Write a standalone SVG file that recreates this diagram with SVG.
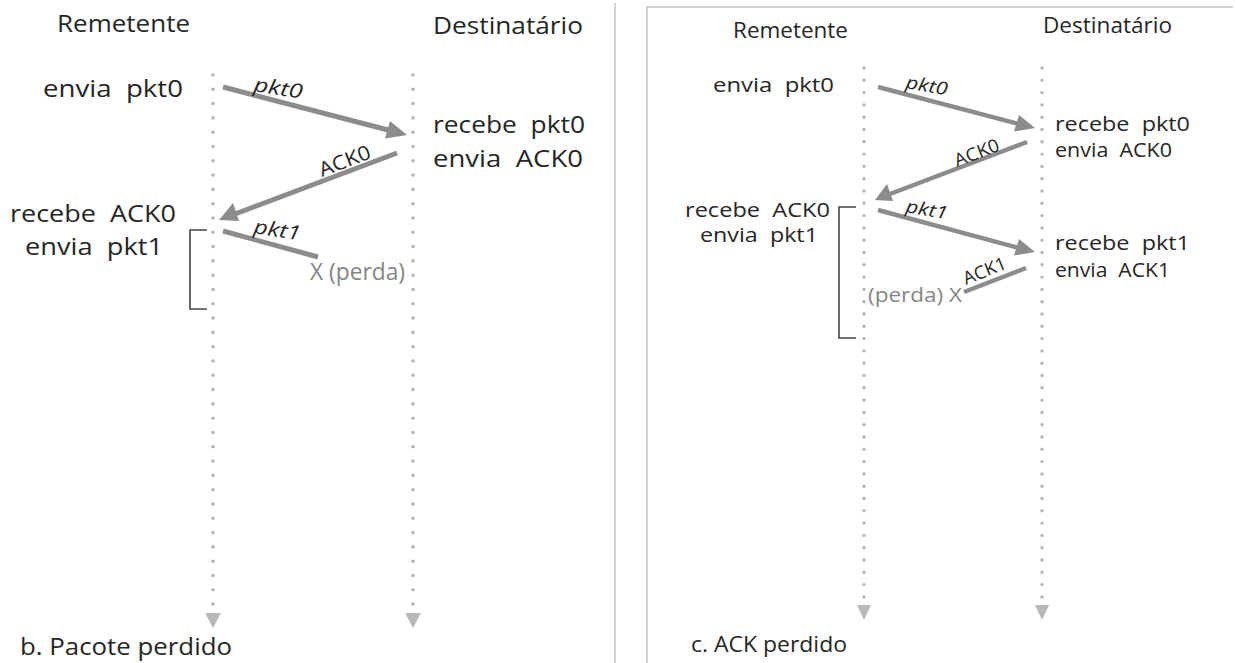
<svg xmlns="http://www.w3.org/2000/svg" width="1236" height="663" viewBox="0 0 1236 663">
<defs>
<style>
text{font-family:"Open Sans","Liberation Sans",sans-serif;fill:#262626}
.t1{font-size:24px}
.t2{font-size:21px}
.b1{font-size:23px}
.b2{font-size:20px}
.lbl1{font-size:20px}
.lbl2{font-size:18px}
.it{font-style:italic}
.loss{fill:#858585}
.arr{stroke:#8c8c8c;stroke-width:5;fill:none}
.arr2{stroke:#8c8c8c;stroke-width:4.5;fill:none}
.life1{stroke:#b5b5b5;stroke-width:3.6;stroke-linecap:round;stroke-dasharray:0 14.3;fill:none}
.life2{stroke:#b5b5b5;stroke-width:3.4;stroke-linecap:round;stroke-dasharray:0 12.3;fill:none}
.head{fill:#b8b8b8}
.ah{fill:#8c8c8c}
.br{stroke:#444;stroke-width:1.6;fill:none}
.frame{stroke:#c4c4c4;stroke-width:1.5;fill:none}
</style>
</defs>
<rect width="1236" height="663" fill="#fff"/>
<g id="frames">
<line class="frame" x1="615" y1="3" x2="615" y2="663"/>
<polyline class="frame" points="647,663 647,7 1233,7"/>
</g>
<g id="panel-b">
<g id="b-titles">
<text class="t1" x="57" y="32" textLength="133" lengthAdjust="spacingAndGlyphs">Remetente</text>
<text class="t1" x="433" y="34" textLength="150" lengthAdjust="spacingAndGlyphs">Destinatário</text>
</g>
<g id="b-lifelines">
<line class="life1" x1="213" y1="75" x2="213" y2="606"/>
<line class="life1" x1="413" y1="75" x2="413" y2="606"/>
<polygon class="head" points="205,613 221,613 213,628"/>
<polygon class="head" points="405,613 421,613 413,628"/>
</g>
<g id="b-sender-events">
<text class="b1" x="43" y="97" textLength="140" lengthAdjust="spacingAndGlyphs" xml:space="preserve">envia  pkt0</text>
<text class="b1" x="10" y="222" textLength="166" lengthAdjust="spacingAndGlyphs" xml:space="preserve">recebe  ACK0</text>
<text class="b1" x="25" y="255" textLength="138" lengthAdjust="spacingAndGlyphs" xml:space="preserve">envia  pkt1</text>
</g>
<g id="b-receiver-events">
<text class="b1" x="433" y="133" textLength="152" lengthAdjust="spacingAndGlyphs" xml:space="preserve">recebe  pkt0</text>
<text class="b1" x="433" y="167" textLength="150" lengthAdjust="spacingAndGlyphs" xml:space="preserve">envia  ACK0</text>
</g>
<g id="b-connectors">
<line class="arr" x1="223" y1="87" x2="390" y2="130.5"/>
<polygon class="ah" points="407,135 385,138.5 390,121"/>
<line class="arr" x1="397" y1="153" x2="235" y2="214"/>
<polygon class="ah" points="219,220 233,203 239,221"/>
<line class="arr" x1="223" y1="231" x2="318" y2="257"/>
<text class="lbl1 it" transform="translate(253,91) rotate(9)" textLength="49" lengthAdjust="spacingAndGlyphs">pkt0</text>
<text class="lbl1" transform="translate(322,177) rotate(-21)" textLength="54" lengthAdjust="spacingAndGlyphs">ACK0</text>
<text class="lbl1 it" transform="translate(253,233) rotate(9)" textLength="47" lengthAdjust="spacingAndGlyphs">pkt1</text>
<text class="b1 loss" x="310" y="280" textLength="95" lengthAdjust="spacingAndGlyphs">X (perda)</text>
</g>
<g id="b-timer">
<polyline class="br" points="207,230 190,230 190,309 207,309"/>
</g>
<text class="t1" x="20" y="655" textLength="212" lengthAdjust="spacingAndGlyphs">b. Pacote perdido</text>
</g>
<g id="panel-c">
<g id="c-titles">
<text class="t2" x="733" y="38" textLength="115" lengthAdjust="spacingAndGlyphs">Remetente</text>
<text class="t2" x="1043" y="33" textLength="129" lengthAdjust="spacingAndGlyphs">Destinatário</text>
</g>
<g id="c-lifelines">
<line class="life2" x1="864" y1="68" x2="864" y2="599"/>
<line class="life2" x1="1042" y1="68" x2="1042" y2="599"/>
<polygon class="head" points="857,605 871,605 864,620"/>
<polygon class="head" points="1035,605 1049,605 1042,620"/>
</g>
<g id="c-sender-events">
<text class="b2" x="713" y="92" textLength="121" lengthAdjust="spacingAndGlyphs" xml:space="preserve">envia  pkt0</text>
<text class="b2" x="685" y="217" textLength="145" lengthAdjust="spacingAndGlyphs" xml:space="preserve">recebe  ACK0</text>
<text class="b2" x="700" y="242" textLength="118" lengthAdjust="spacingAndGlyphs" xml:space="preserve">envia  pkt1</text>
</g>
<g id="c-receiver-events">
<text class="b2" x="1055" y="131" textLength="135" lengthAdjust="spacingAndGlyphs" xml:space="preserve">recebe  pkt0</text>
<text class="b2" x="1055" y="157" textLength="117" lengthAdjust="spacingAndGlyphs" xml:space="preserve">envia  ACK0</text>
<text class="b2" x="1055" y="250" textLength="135" lengthAdjust="spacingAndGlyphs" xml:space="preserve">recebe  pkt1</text>
<text class="b2" x="1055" y="277" textLength="115" lengthAdjust="spacingAndGlyphs" xml:space="preserve">envia  ACK1</text>
</g>
<g id="c-connectors">
<line class="arr2" x1="878" y1="87" x2="1019" y2="124"/>
<polygon class="ah" points="1035,128 1014,131.5 1019,115"/>
<line class="arr2" x1="1027" y1="142" x2="890" y2="194"/>
<polygon class="ah" points="875,200 887,184 893,201"/>
<line class="arr2" x1="878" y1="210" x2="1019" y2="248"/>
<polygon class="ah" points="1035,252 1014,255.5 1019,239"/>
<line class="arr2" x1="1026" y1="268" x2="964" y2="292"/>
<text class="lbl2 it" transform="translate(905,88) rotate(10)" textLength="42" lengthAdjust="spacingAndGlyphs">pkt0</text>
<text class="lbl2" transform="translate(957,167) rotate(-21)" textLength="47" lengthAdjust="spacingAndGlyphs">ACK0</text>
<text class="lbl2 it" transform="translate(905,212) rotate(10)" textLength="42" lengthAdjust="spacingAndGlyphs">pkt1</text>
<text class="lbl2" transform="translate(966,285) rotate(-22)" textLength="45" lengthAdjust="spacingAndGlyphs">ACK1</text>
<text class="b2 loss" x="868" y="302" textLength="94" lengthAdjust="spacingAndGlyphs">(perda) X</text>
</g>
<g id="c-timer">
<polyline class="br" points="856,207 839,207 839,338 856,338"/>
</g>
<text class="t2" x="691" y="652" textLength="156" lengthAdjust="spacingAndGlyphs">c. ACK perdido</text>
</g>
</svg>
